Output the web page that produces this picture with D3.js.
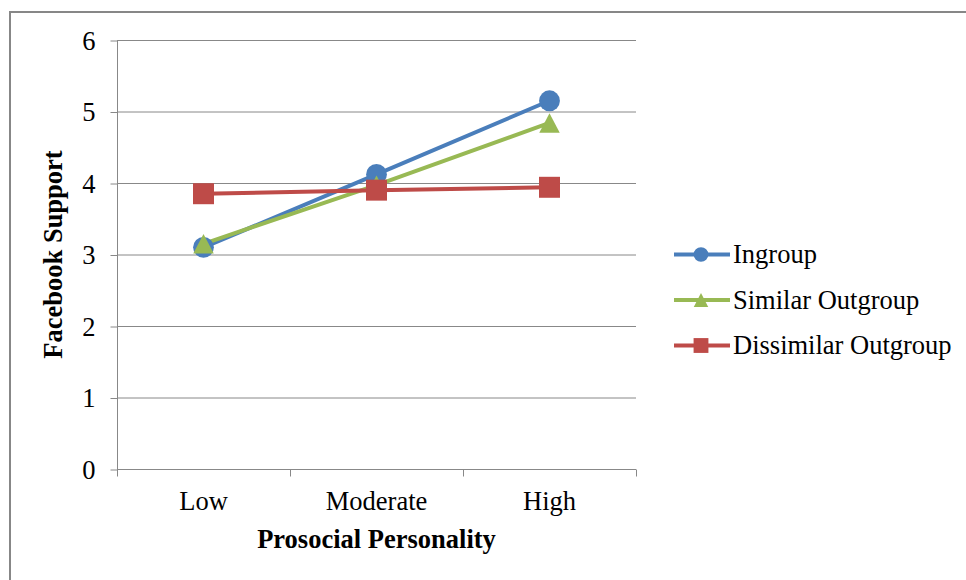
<!DOCTYPE html>
<html><head><meta charset="utf-8">
<script src="https://cdn.jsdelivr.net/npm/d3@7"></script>
<style>body{margin:0;background:#fff}svg{display:block}text{font-family:"Liberation Serif","Times New Roman",serif;fill:#000}</style>
</head><body><svg id="c" width="966" height="580"></svg>
<script>
const categories = ["Low", "Moderate", "High"];
const seriesNames = ["Ingroup", "Similar Outgroup", "Dissimilar Outgroup"];
const ingroup = [3.10, 4.12, 5.15];
const similarOutgroup = [3.15, 3.97, 4.84];
const dissimilarOutgroup = [3.85, 3.90, 3.94];
const yTicks = [0, 1, 2, 3, 4, 5, 6];
const colors = ["#4A7EBB", "#98B954", "#BE4B48"];

const triangle = { draw(ctx, size) { const w = Math.sqrt(size), h = w * 0.95; ctx.moveTo(0, -h / 2); ctx.lineTo(w / 2, h / 2); ctx.lineTo(-w / 2, h / 2); ctx.closePath(); } };
const symbols = [d3.symbolCircle, triangle, d3.symbolSquare];
const symSize = [340, 420, 440];

const series = [ingroup, similarOutgroup, dissimilarOutgroup].map((v, i) => ({name: seriesNames[i], values: v, color: colors[i], symbol: symbols[i]}));

const FS = 26.5;
const svg = d3.select("#c");
svg.append("rect").attr("x", 10).attr("y", 12).attr("width", 980).attr("height", 600)
  .attr("fill", "#fff").attr("stroke", "#878787").attr("stroke-width", 2);

const pLeft = 117, pRight = 636, pTop = 40, pBottom = 469;
const x = d3.scaleBand().domain(categories).range([pLeft, pRight]);
const y = d3.scaleLinear().domain([0, 6]).range([pBottom, pTop]);

// gridlines
svg.append("g").selectAll("line").data(yTicks.filter(d => d > 0)).join("line")
  .attr("x1", pLeft).attr("x2", pRight).attr("y1", d => y(d) + 0.5).attr("y2", d => y(d) + 0.5)
  .attr("stroke", "#888").attr("stroke-width", 1);

// y axis
const ya = svg.append("g").attr("transform", `translate(${pLeft + 0.5},0)`)
  .call(d3.axisLeft(y).tickValues(yTicks).tickSize(7).tickPadding(15).tickFormat(d3.format("d")));
ya.select(".domain").attr("stroke", "#888").attr("d", `M0,${pTop}V${pBottom}`);
ya.selectAll(".tick line").attr("stroke", "#888").attr("transform", "translate(0,0.5)");
ya.selectAll("text").attr("font-size", FS).attr("dy", "0.35em");

// x axis
const xa = svg.append("g").attr("transform", `translate(0,${pBottom + 0.5})`)
  .call(d3.axisBottom(x).tickSize(0).tickPadding(22));
xa.select(".domain").attr("stroke", "#888").attr("d", `M${pLeft},0H${pRight}`);
xa.selectAll("text").attr("font-size", FS);
const edges = categories.map(c => x(c)).concat([pRight]);
xa.append("g").selectAll("line").data(edges).join("line")
  .attr("x1", d => d + 0.5).attr("x2", d => d + 0.5).attr("y1", 0).attr("y2", 7).attr("stroke", "#888");

// axis titles
svg.append("text").attr("x", (pLeft + pRight) / 2).attr("y", 548).attr("text-anchor", "middle")
  .attr("font-weight", "bold").attr("font-size", FS).text("Prosocial Personality");
svg.append("text").attr("transform", `translate(62,${(pTop + pBottom) / 2 + 0}) rotate(-90)`).attr("text-anchor", "middle")
  .attr("font-weight", "bold").attr("font-size", FS).text("Facebook Support");

// lines
const line = d3.line().x((d, i) => x(categories[i]) + x.bandwidth() / 2).y(d => y(d));
series.forEach((s, k) => {
  svg.append("path").datum(s.values).attr("d", line).attr("fill", "none")
    .attr("stroke", s.color).attr("stroke-width", 4).attr("stroke-linejoin", "round");
});
series.forEach((s, k) => {
  svg.append("g").selectAll("path").data(s.values).join("path")
    .attr("transform", (d, i) => `translate(${x(categories[i]) + x.bandwidth() / 2},${y(d)})`)
    .attr("d", d3.symbol().type(s.symbol).size(symSize[k])).attr("fill", s.color);
});

// legend
const lg = svg.append("g");
series.forEach((s, k) => {
  const ly = 254.5 + k * 45.5;
  lg.append("line").attr("x1", 674).attr("x2", 730).attr("y1", ly).attr("y2", ly)
    .attr("stroke", s.color).attr("stroke-width", 4);
  lg.append("path").attr("transform", `translate(701,${ly})`)
    .attr("d", d3.symbol().type(s.symbol).size(symSize[k] * 0.5)).attr("fill", s.color);
  lg.append("text").attr("x", 733).attr("y", ly).attr("dy", "0.33em").attr("font-size", FS).text(s.name);
});
</script></body></html>
